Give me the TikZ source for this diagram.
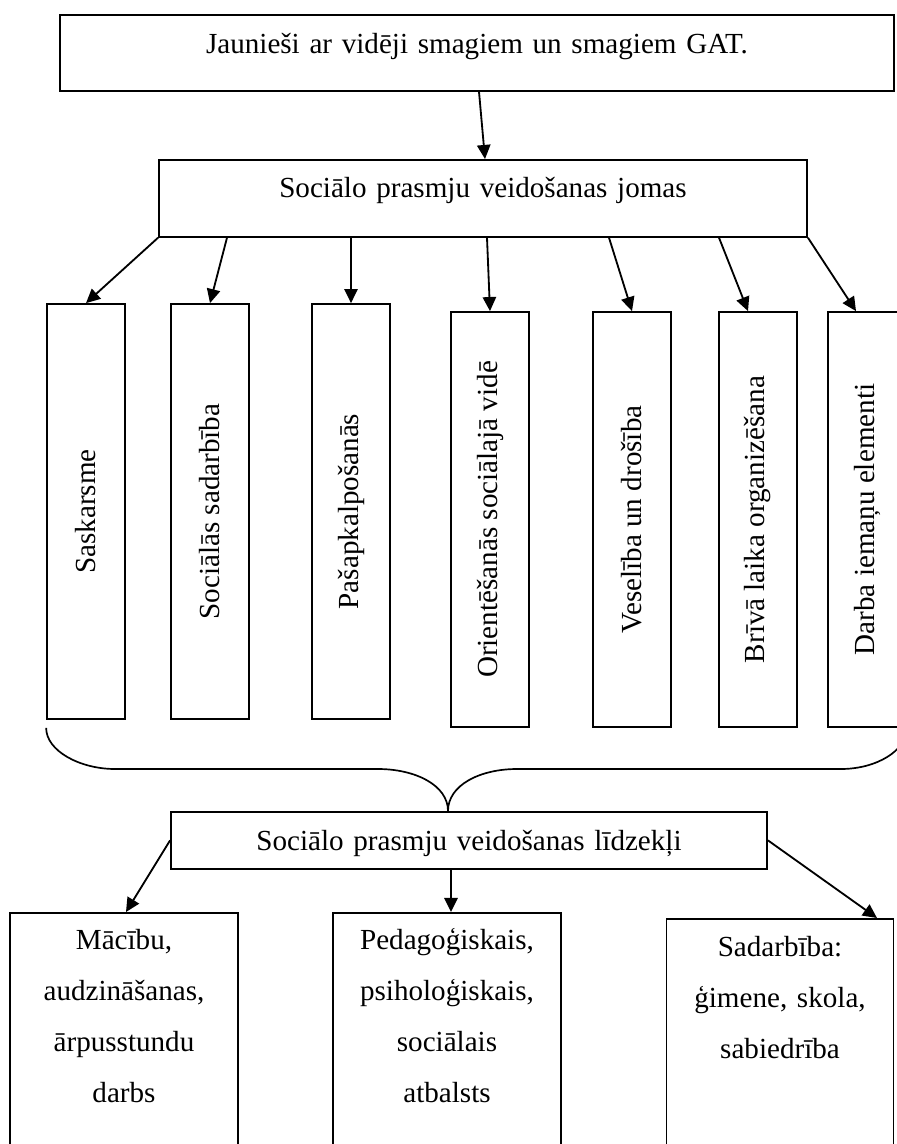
\documentclass[tikz,border=0pt]{standalone}
\usepackage{fontspec}
\setmainfont{Liberation Serif}
\usetikzlibrary{arrows.meta}

\begin{document}
\begin{tikzpicture}[
  x=0.025cm, y=-0.025cm,
  every node/.style={font=\fontsize{20.7}{36.3}\selectfont},
  box/.style={draw, line width=1.2pt, inner sep=0pt, anchor=north, align=center},
  area/.style={draw, line width=1.2pt, inner sep=0pt, minimum width=1.95cm, minimum height=10.375cm},
  arrow/.style={-{Triangle[length=10pt, width=9.5pt]}, line width=1.3pt},
  brace/.style={line width=1.2pt}
]
\useasboundingbox (0,0) rectangle (896,1144);

% Nodes
\node[box, text width=20.85cm, text height=0.975cm, text depth=0.925cm] (youth) at (477,14) {Jaunieši ar vidēji smagiem un smagiem GAT.};
\node[box, text width=16.2cm, text height=0.95cm, text depth=0.975cm] (areas) at (483,159) {Sociālo prasmju veidošanas jomas};

\node[area] (c1) at (86,511.5) {\rotatebox{90}{Saskarsme}};
\node[area] (c2) at (210,511.5) {\rotatebox{90}{Sociālās sadarbība}};
\node[area] (c3) at (351,511.5) {\rotatebox{90}{Pašapkalpošanās}};
\node[area] (c4) at (490,519.5) {\rotatebox{90}{Orientēšanās sociālajā vidē}};
\node[area] (c5) at (632,519.5) {\rotatebox{90}{Veselība un drošība}};
\node[area] (c6) at (758,519.5) {\rotatebox{90}{Brīvā laika organizēšana}};
\node[area] (c7) at (867,519.5) {\rotatebox{90}{Darba iemaņu elementi}};

\node[box, text width=14.9cm, text height=0.975cm, text depth=0.45cm] (means) at (469,811) {Sociālo prasmju veidošanas līdzekļi};

\node[box, text width=5.7cm, text height=0.92cm, text depth=6.5cm] (m1) at (124,912) {Mācību,\\audzināšanas,\\ārpusstundu\\darbs};
\node[box, text width=5.7cm, text height=0.92cm, text depth=6.5cm] (m2) at (447,912) {Pedagoģiskais,\\psiholoģiskais,\\sociālais\\atbalsts};
\node[box, text width=5.675cm, text height=0.95cm, text depth=6.5cm] (m3) at (780,918) {Sadarbība:\\ģimene, skola,\\sabiedrība};

% Arrows
\draw[arrow] (479,0 |- youth.south) -- (485,0 |- areas.north);
\draw[arrow] (areas.south west) -- (c1.north);
\draw[arrow] (227,0 |- areas.south) -- (c2.north);
\draw[arrow] (c3.north |- areas.south) -- (c3.north);
\draw[arrow] (487,0 |- areas.south) -- (c4.north);
\draw[arrow] (609,0 |- areas.south) -- (c5.north);
\draw[arrow] (719,0 |- areas.south) -- (748,0 |- c6.north);
\draw[arrow] (areas.south east) -- (856,0 |- c7.north);

% Brace
\coordinate (cusp) at (448,0 |- means.north);
\draw[brace] (c1.south west |- c4.south) .. controls +(0,23) and +(-35,0) .. (115,769)
  -- (378,769) .. controls +(37,0) and +(0,-26) .. (cusp)
  .. controls +(0,-26) and +(-37,0) .. (517,769)
  -- (841,769) .. controls +(35,0) and +(0,23) .. (c7.south east);

\draw[arrow] (means.west) -- (126,0 |- m1.north);
\draw[arrow] (451,0 |- means.south) -- (451,0 |- m2.north);
\draw[arrow] (means.east) -- (877,0 |- m3.north);

\end{tikzpicture}
\end{document}
